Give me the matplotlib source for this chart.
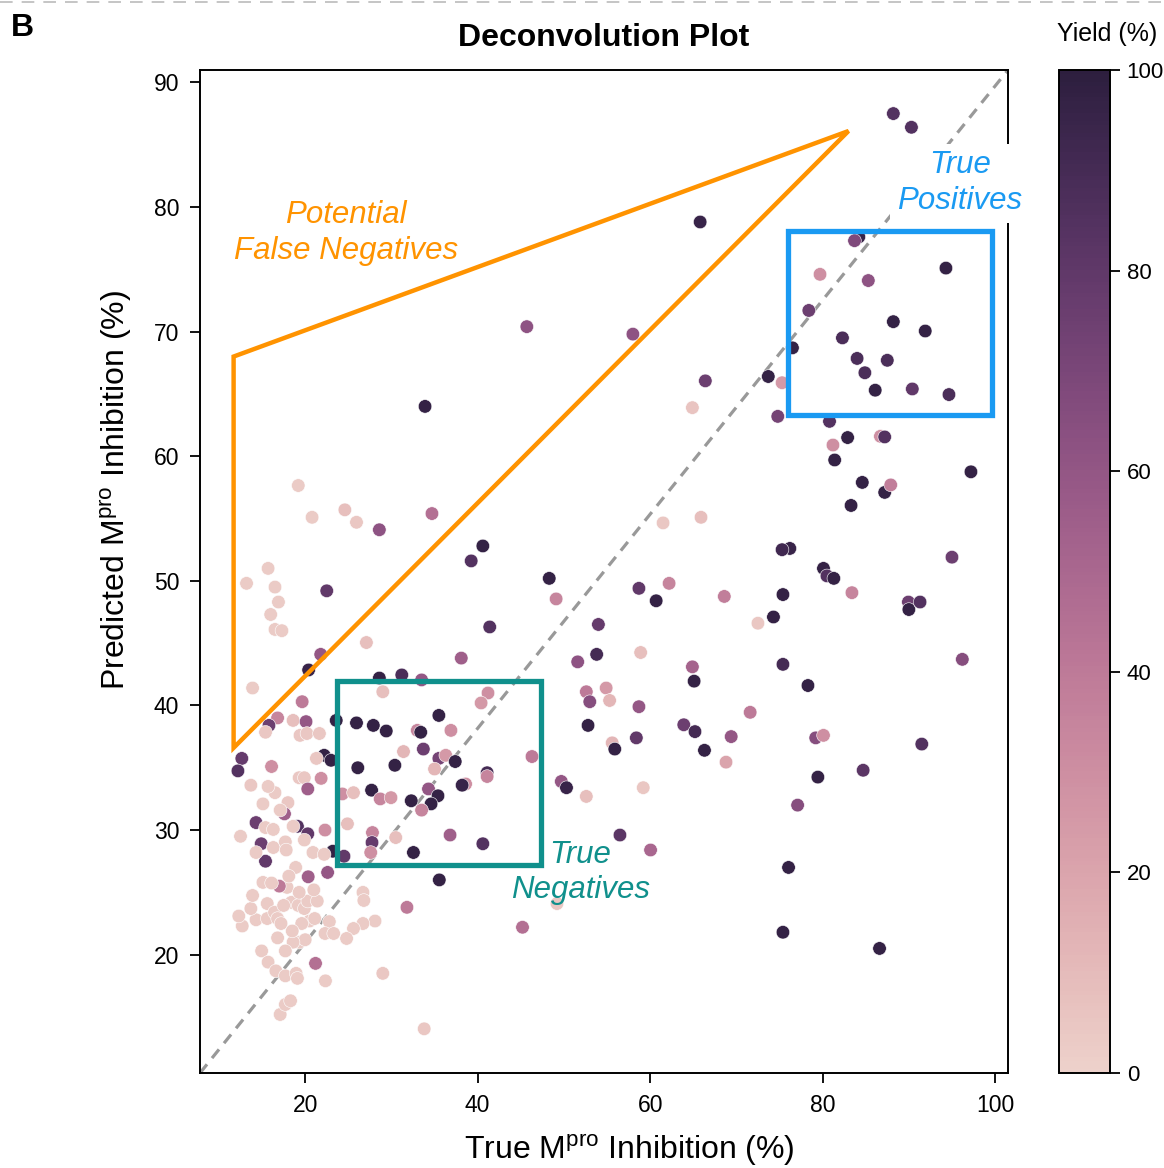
import numpy as np
import matplotlib
matplotlib.use("Agg")
import matplotlib.pyplot as plt
import seaborn as sns
from matplotlib.patches import Polygon, Rectangle
from matplotlib.lines import Line2D

plt.rcParams['font.family'] = ['Liberation Sans', 'DejaVu Sans']
plt.rcParams['mathtext.fontset'] = 'custom'
plt.rcParams['mathtext.rm'] = 'Liberation Sans'
plt.rcParams['mathtext.it'] = 'Liberation Sans:italic'

# true inhibition (%), predicted inhibition (%), yield (%)
true_inhib = [
    88.2, 90.3, 65.8, 45.7, 58.0, 33.9, 66.4, 64.9, 73.7, 74.8, 76.5, 75.3,
    84.2, 83.7, 94.3, 79.7, 85.3, 78.4, 88.2, 91.9, 82.3, 84.0, 87.5, 84.9,
    86.1, 90.4, 94.65, 80.8, 82.9, 86.7, 87.2, 81.2, 81.4, 97.2, 84.6, 87.2,
    87.9, 83.3,
    76.2, 75.3, 80.1, 80.5, 81.3, 83.4, 95.0, 75.4, 89.95, 90.0, 91.3, 96.2,
    75.4, 78.3, 79.2, 80.1, 91.5, 79.45, 84.7, 77.1, 76.05, 75.4, 86.6, 74.3,
    72.5, 68.6, 71.6,
    61.5, 65.9, 48.3, 49.1, 58.7, 62.2, 60.7, 54.0, 53.8, 51.6, 58.9, 64.9,
    65.1, 52.6, 54.9, 53.0, 55.3, 58.7,
    52.8, 58.4, 55.6, 55.9, 63.9, 65.2, 66.3, 69.4, 68.8, 49.7, 50.3, 52.6,
    59.2, 56.5, 60.05, 49.2,
    19.2, 20.8, 24.6, 25.95, 28.6, 34.7, 40.6, 39.25, 15.7, 13.2, 16.5, 16.9,
    22.5, 16.0, 16.5, 17.3, 41.4, 27.1, 21.8, 20.4, 38.1, 28.6, 31.2, 33.5,
    13.9, 29.0, 19.65, 41.2, 40.4,
    16.8, 15.8, 18.6, 20.1, 15.4, 19.4, 20.2, 21.65, 23.6, 25.95, 27.9, 29.4,
    35.5, 33.0, 33.4, 36.9, 46.3, 12.65, 12.2, 16.1, 13.7, 22.2, 23.0, 21.3,
    26.1, 30.4, 31.4, 33.7, 35.5, 36.3, 37.4, 35.0, 41.1, 41.1, 38.6, 38.2,
    19.3, 19.9, 21.85, 20.3, 16.5, 15.7, 18.0, 15.1, 17.6, 24.3, 25.6, 27.7,
    28.7, 29.95, 32.3, 34.3, 35.4, 34.6, 33.5, 24.9, 14.3, 19.1, 20.3, 22.3,
    12.5, 14.9, 15.4, 27.8, 27.75, 30.5, 36.8, 40.6, 32.55, 27.6, 23.2, 24.5,
    35.55, 31.8, 45.2, 29.0, 22.35, 21.2, 33.8, 17.1, 17.7, 18.3,
    14.95, 15.7, 16.6, 17.7, 18.95, 19.1, 26.7, 26.8, 28.1, 26.7, 25.6, 24.8,
    22.8, 22.3, 23.3, 20.5, 19.3, 20.0, 18.6, 17.7, 16.8, 14.3, 12.7, 12.3,
    13.7, 13.9, 15.6, 15.6, 16.45, 16.8, 17.2, 18.4, 19.2, 19.9, 20.3, 21.4,
    21.1, 19.6, 17.9, 19.3, 21.0,
    17.1, 15.4, 16.3, 18.6, 19.9, 14.3, 16.3, 17.7, 17.8, 20.9, 22.2, 20.35,
    17.0, 22.6, 18.9, 18.1, 15.1, 16.1, 17.5, 18.5,
]
pred_inhib = [
    87.5, 86.4, 78.8, 70.4, 69.8, 64.0, 66.05, 63.9, 66.4, 63.2, 68.7, 65.9,
    77.6, 77.3, 75.1, 74.6, 74.1, 71.7, 70.8, 70.05, 69.5, 67.85, 67.7, 66.7,
    65.3, 65.4, 64.95, 62.8, 61.5, 61.6, 61.55, 60.9, 59.7, 58.75, 57.9, 57.1,
    57.7, 56.05,
    52.6, 52.5, 51.0, 50.4, 50.2, 49.05, 51.9, 48.9, 48.3, 47.7, 48.3, 43.7,
    43.3, 41.6, 37.4, 37.6, 36.9, 34.25, 34.8, 32.0, 27.0, 21.8, 20.5, 47.1,
    46.6, 48.75, 39.45,
    54.65, 55.1, 50.2, 48.55, 49.4, 49.8, 48.4, 46.5, 44.1, 43.5, 44.25, 43.1,
    41.95, 41.1, 41.4, 40.3, 40.4, 39.9,
    38.4, 37.4, 37.0, 36.5, 38.45, 37.9, 36.4, 37.5, 35.45, 33.9, 33.4, 32.7,
    33.4, 29.6, 28.4, 24.1,
    57.65, 55.1, 55.7, 54.7, 54.1, 55.4, 52.8, 51.6, 51.0, 49.8, 49.5, 48.3,
    49.2, 47.3, 46.1, 46.0, 46.3, 45.05, 44.1, 42.85, 43.8, 42.2, 42.45, 42.05,
    41.4, 41.1, 40.3, 41.0, 40.2,
    39.0, 38.4, 38.8, 38.7, 37.85, 37.6, 37.75, 37.75, 38.8, 38.6, 38.4, 37.95,
    39.2, 38.0, 37.85, 38.0, 35.9, 35.75, 34.75, 35.1, 33.6, 36.0, 35.6, 35.75,
    35.0, 35.2, 36.3, 36.5, 35.75, 36.0, 35.5, 34.9, 34.6, 34.3, 33.7, 33.6,
    34.2, 34.2, 34.15, 33.3, 33.0, 33.5, 32.2, 32.1, 31.3, 32.9, 33.0, 33.2,
    32.5, 32.6, 32.35, 33.3, 32.75, 32.1, 31.6, 30.5, 30.6, 30.3, 29.7, 30.0,
    29.5, 28.9, 27.5, 29.8, 29.0, 29.4, 29.6, 28.9, 28.2, 28.2, 28.3, 27.9,
    26.0, 23.8, 22.2, 18.5, 17.9, 19.3, 14.05, 15.2, 16.0, 16.3,
    20.3, 19.4, 18.7, 18.3, 18.5, 18.1, 25.0, 24.35, 22.7, 22.5, 22.1, 21.3,
    22.65, 21.7, 21.7, 22.7, 21.0, 21.2, 21.0, 20.3, 21.35, 22.8, 22.3, 23.1,
    23.7, 24.75, 24.1, 22.9, 23.4, 22.9, 22.5, 24.2, 23.95, 23.7, 24.3, 24.3,
    22.9, 22.5, 25.4, 25.0, 25.2,
    31.6, 30.2, 30.05, 30.3, 29.2, 28.2, 28.6, 29.05, 28.4, 28.2, 28.05, 26.25,
    25.5, 26.6, 27.0, 26.3, 25.8, 25.75, 23.95, 21.9,
]
yield_pct = [
    85, 85, 95, 62, 62, 97, 75, 6, 97, 72, 97, 25,
    95, 68, 97, 30, 62, 75, 97, 97, 88, 88, 88, 88,
    97, 80, 88, 85, 97, 30, 85, 30, 97, 97, 97, 97,
    38, 97,
    95, 92, 97, 85, 97, 35, 75, 97, 75, 97, 85, 65,
    90, 97, 65, 30, 85, 97, 82, 65, 97, 97, 97, 97,
    5, 38, 40,
    5, 8, 97, 35, 80, 35, 97, 78, 90, 62, 8, 52,
    97, 40, 25, 65, 12, 60,
    97, 80, 12, 97, 75, 90, 97, 60, 20, 60, 95, 8,
    5, 82, 50, 5,
    3, 3, 8, 5, 62, 45, 97, 85, 3, 3, 3, 3,
    80, 3, 3, 3, 85, 8, 60, 95, 55, 97, 88, 60,
    3, 8, 40, 30, 25,
    35, 75, 8, 60, 5, 5, 5, 5, 97, 97, 97, 97,
    97, 35, 97, 30, 40, 78, 85, 30, 5, 97, 97, 5,
    97, 97, 12, 75, 72, 25, 97, 12, 90, 35, 30, 95,
    5, 5, 30, 55, 3, 3, 5, 3, 55, 30, 8, 97,
    35, 25, 97, 60, 97, 97, 35, 8, 75, 85, 80, 30,
    3, 75, 80, 35, 78, 8, 55, 85, 97, 30, 97, 80,
    97, 40, 45, 5, 3, 45, 5, 3, 3, 3,
    3, 3, 3, 3, 3, 3, 3, 3, 3, 3, 3, 3,
    3, 3, 3, 3, 3, 3, 3, 3, 3, 3, 3, 3,
    3, 3, 3, 3, 3, 3, 3, 3, 3, 3, 3, 3,
    3, 3, 3, 3, 3,
    3, 3, 3, 3, 3, 3, 3, 3, 3, 3, 3, 55,
    40, 60, 3, 3, 3, 3, 3, 3,
]

# region outlines (data units)
fn_corners = [(11.7, 68.0), (83.0, 86.1), (11.7, 36.6)]
tn_box = (23.7, 27.2, 23.6, 14.8)
tp_box = (76.0, 63.3, 23.6, 14.8)

orange = '#FF9300'
teal = '#10908C'
blue = '#1A9AF2'

cmap = sns.cubehelix_palette(as_cmap=True)

fig = plt.figure(figsize=(11.64, 11.68), dpi=100)
ax = fig.add_axes([0.1718, 0.0813, 0.6942, 0.8588])
cax = fig.add_axes([0.9098, 0.0813, 0.0438, 0.8588])

sc = ax.scatter(true_inhib, pred_inhib, c=yield_pct, cmap=cmap, vmin=0, vmax=100,
                s=95, edgecolors='white', linewidths=0.4, zorder=2)

ax.plot([0, 1], [0, 1], transform=ax.transAxes, color='#999999', lw=2.3,
        ls=(0, (3.5, 2.5)), zorder=1)

ax.add_patch(Polygon(fn_corners, closed=True, fill=False, edgecolor=orange,
                     lw=3.2, zorder=3))
ax.add_patch(Rectangle(tn_box[:2], tn_box[2], tn_box[3], fill=False,
                       edgecolor=teal, lw=3.8, zorder=3))
ax.add_patch(Rectangle(tp_box[:2], tp_box[2], tp_box[3], fill=False,
                       edgecolor=blue, lw=3.8, zorder=3))

ax.text(24.7, 77.9, "Potential\nFalse Negatives", color=orange, fontsize=22.5,
        style='italic', ha='center', va='center', linespacing=1.25)
ax.text(95.9, 81.9, "True\nPositives", color=blue, fontsize=22.5,
        style='italic', ha='center', va='center', linespacing=1.25,
        clip_on=False, zorder=5,
        bbox=dict(facecolor='white', edgecolor='none', pad=5))
ax.text(51.9, 26.6, "True\nNegatives", color=teal, fontsize=22.5,
        style='italic', ha='center', va='center', linespacing=1.25)

ax.set_xlim(7.8, 101.5)
ax.set_ylim(10.5, 91.0)
ax.set_xticks([20, 40, 60, 80, 100])
ax.set_yticks([20, 30, 40, 50, 60, 70, 80, 90])
ax.tick_params(labelsize=16.5, length=7, width=1.3, pad=8)
for sp in ax.spines.values():
    sp.set_linewidth(1.4)

ax.set_xlabel(r"True M$^{\mathrm{pro}}$ Inhibition (%)", fontsize=23, va='center')
ax.xaxis.set_label_coords(0.531, -0.077)
ax.set_ylabel(r"Predicted M$^{\mathrm{pro}}$ Inhibition (%)", fontsize=23)
ax.yaxis.set_label_coords(-0.082, 0.581)
ax.set_title("Deconvolution Plot", fontsize=23, fontweight='bold', pad=17)

cb = fig.colorbar(sc, cax=cax)
cb.set_ticks([0, 20, 40, 60, 80, 100])
cb.ax.tick_params(labelsize=16, length=7, width=1.3, pad=5)
cb.outline.set_linewidth(1.4)
fig.text(1107 / 1164, 1 - 34 / 1168, "Yield (%)", fontsize=18, ha='center', va='center')

fig.text(0.009, 1 - 28 / 1168, "B", fontsize=23, fontweight='bold', va='center')
fig.add_artist(Line2D([0, 1], [0.9985, 0.9985], color='#c0c0c0', lw=1.3,
                      ls=(0, (7, 5)), transform=fig.transFigure))

fig.savefig("out.png", dpi=100)
